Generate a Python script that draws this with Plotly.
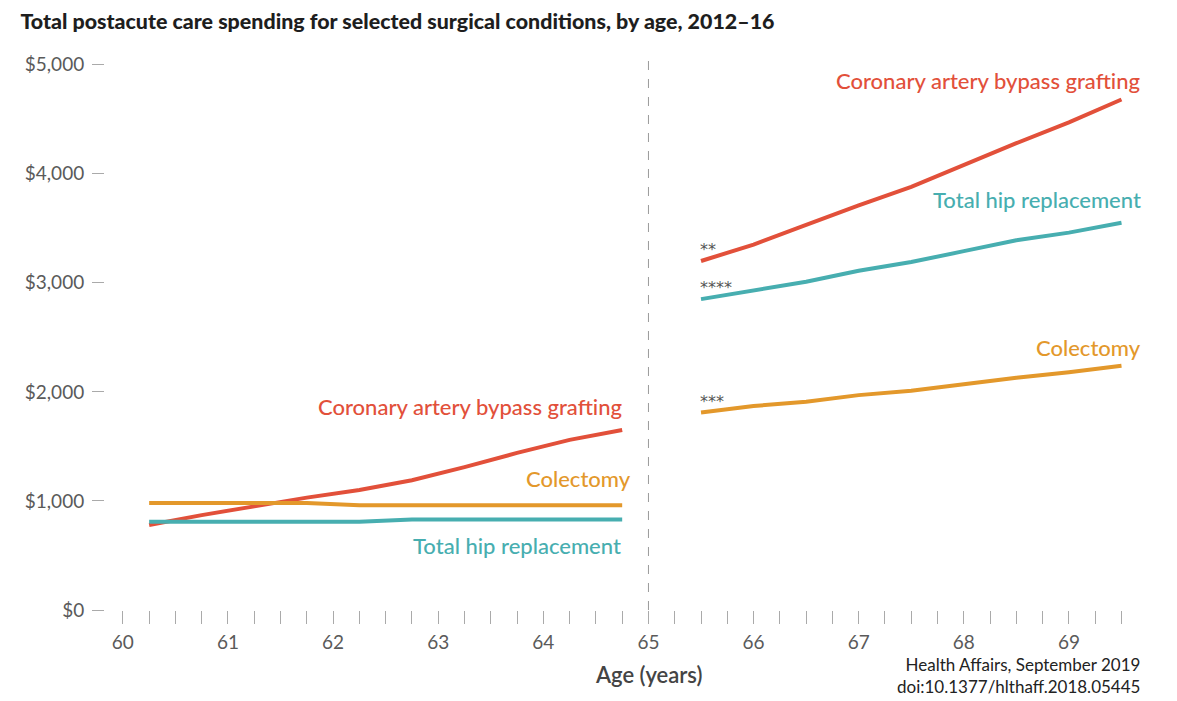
import plotly.graph_objects as go

# ---- data ----
age_pre = [60.25, 60.75, 61.25, 61.75, 62.25, 62.75, 63.25, 63.75, 64.25, 64.75]
cabg_pre = [780, 870, 950, 1030, 1100, 1190, 1310, 1440, 1560, 1650]
colectomy_pre = [980, 980, 980, 980, 960, 960, 960, 960, 960, 960]
hip_pre = [810, 810, 810, 810, 810, 830, 830, 830, 830, 830]

age_post = [65.5, 66.0, 66.5, 67.0, 67.5, 68.0, 68.5, 69.0, 69.5]
cabg_post = [3200, 3350, 3530, 3710, 3880, 4080, 4280, 4470, 4680]
hip_post = [2850, 2930, 3010, 3110, 3190, 3290, 3390, 3460, 3550]
colectomy_post = [1810, 1870, 1910, 1970, 2010, 2070, 2130, 2180, 2240]

x_ticks = [60, 61, 62, 63, 64, 65, 66, 67, 68, 69]
y_ticks = [0, 1000, 2000, 3000, 4000, 5000]
y_tick_labels = ["$0", "$1,000", "$2,000", "$3,000", "$4,000", "$5,000"]

RED = "#e2503a"
TEAL = "#47aeb0"
ORANGE = "#e3982b"
FONT = "Lato"
TICK_COL = "#5a5a5a"

W, H = 1170, 694
L, R, T, B = 97, 46, 49, 92
PW, PH = W - L - R, H - T - B

fig = go.Figure()
series = [
    (age_pre, cabg_pre, RED), (age_pre, colectomy_pre, ORANGE), (age_pre, hip_pre, TEAL),
    (age_post, cabg_post, RED), (age_post, hip_post, TEAL), (age_post, colectomy_post, ORANGE),
]
for xs, ys, c in series:
    fig.add_trace(go.Scatter(x=xs, y=ys, mode="lines", line=dict(color=c, width=4),
                             showlegend=False, hoverinfo="skip"))

fig.add_shape(type="line", x0=65, x1=65, y0=0, y1=5070, xref="x", yref="y",
              line=dict(color="#9a9a9a", width=1, dash="dash"), layer="below")

labels = [
    (64.75, 1650, "Coronary artery bypass grafting", RED, 8, 3),
    (64.75, 960, "Colectomy", ORANGE, 11, 11),
    (64.75, 830, "Total hip replacement", TEAL, -11, 1),
    (69.5, 4680, "Coronary artery bypass grafting", RED, 4, 22),
    (69.5, 3550, "Total hip replacement", TEAL, 8, 22),
    (69.5, 2240, "Colectomy", ORANGE, 3, 22),
]
for x, y, t, c, dy, dx in labels:
    fig.add_annotation(x=x, y=y, text=t, showarrow=False, xanchor="right",
                       yanchor="bottom" if dy > 0 else "top", yshift=dy, xshift=dx,
                       font=dict(family=FONT, size=22, color=c, weight=500))

stars = [(65.5, 3200, "**"), (65.5, 2850, "****"), (65.5, 1810, "***")]
for x, y, t in stars:
    fig.add_annotation(x=x, y=y, text=t, showarrow=False, xanchor="left", yanchor="bottom",
                       yshift=0, xshift=-3,
                       font=dict(family="DejaVu Sans", size=16, color="#555555"))

fig.add_annotation(text="Age (years)", xref="paper", yref="paper",
                   x=(647 - 7 - L) / PW, y=-(673 - 7 - (T + PH)) / PH,
                   xanchor="center", yanchor="middle", showarrow=False,
                   font=dict(family=FONT, size=22, color="#444444", weight=600))

fig.add_annotation(text="Health Affairs, September 2019<br>doi:10.1377/hlthaff.2018.05445",
                   xref="paper", yref="paper", x=(1141 - 7 - L) / PW,
                   y=-(674 - 7 - (T + PH)) / PH, xanchor="right", yanchor="middle",
                   align="right", showarrow=False,
                   font=dict(family=FONT, size=17, color="#222222"))

fig.update_layout(
    width=W, height=H,
    margin=dict(l=L, r=R, t=T, b=B),
    paper_bgcolor="white", plot_bgcolor="white",
    title=dict(text="Total postacute care spending for selected surgical conditions, by age, 2012–16",
               x=12.4 / W, xanchor="left", y=1 - 13 / H, yanchor="middle",
               font=dict(family=FONT, size=21.4, color="#1e1e1e", weight=900)),
    xaxis=dict(range=[59.83, 69.6], tickvals=x_ticks, ticks="outside", ticklen=13,
               tickcolor="#aaaaaa", tickwidth=1, showgrid=False, zeroline=False,
               showline=False, ticklabelstandoff=2,
               tickfont=dict(family=FONT, size=19, color=TICK_COL, weight=400),
               minor=dict(dtick=0.25, tick0=60, ticks="outside", ticklen=13,
                          tickcolor="#aaaaaa", tickwidth=1, showgrid=False)),
    yaxis=dict(range=[0, 5070], tickvals=y_ticks, ticktext=y_tick_labels, ticks="outside",
               ticklen=12, tickcolor="#aaaaaa", tickwidth=1, showgrid=False, zeroline=False,
               showline=False, ticklabelstandoff=4,
               tickfont=dict(family=FONT, size=19, color=TICK_COL, weight=400)),
)

fig.write_html("out.html")
